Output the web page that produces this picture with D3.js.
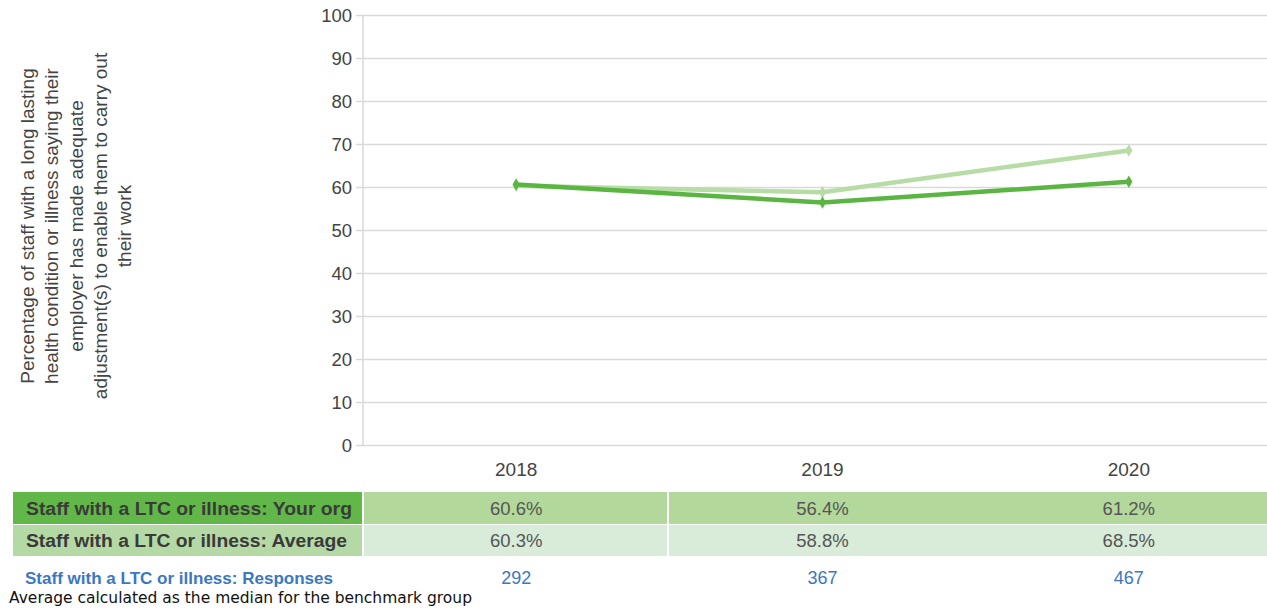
<!DOCTYPE html>
<html>
<head>
<meta charset="utf-8">
<script src="https://cdn.jsdelivr.net/npm/d3@7"></script>
<style>
  body { margin: 0; background: #fff; }
  svg { display: block; font-family: "Liberation Sans", Arial, sans-serif; }
  .grid line { stroke: #d9d9d9; stroke-width: 1.5; }
  .grid path { display: none; }
  .tick text { fill: #444; }
</style>
</head>
<body>
<div id="chart"></div>
<script>
// chart data
const years = ["2018", "2019", "2020"];
const yourOrg = [60.6, 56.4, 61.2];
const average = [60.3, 58.8, 68.5];
const responses = [292, 367, 467];
const yTicks = [0, 10, 20, 30, 40, 50, 60, 70, 80, 90, 100];
const axisTitle = [
  "Percentage of staff with a long lasting",
  "health condition or illness saying their",
  "employer has made adequate",
  "adjustment(s) to enable them to carry out",
  "their work"
];
const rowLabels = [
  "Staff with a LTC or illness: Your org",
  "Staff with a LTC or illness: Average"
];

const W = 1267, H = 609;
const plotLeft = 363, plotTop = 15, plotBottom = 445;

const svg = d3.select("#chart").append("svg")
  .attr("width", W).attr("height", H);

const x = d3.scaleBand().domain(years).range([plotLeft, 1282]);
const xc = d => x(d) + x.bandwidth() / 2;
const y = d3.scaleLinear().domain([0, 100]).range([plotBottom, plotTop]);

// horizontal grid with little ticks out to the left
svg.append("g")
  .attr("class", "grid")
  .attr("transform", "translate(" + plotLeft + ",0)")
  .call(d3.axisLeft(y).tickValues(yTicks).tickSize(0).tickFormat(""))
  .call(g => g.selectAll(".tick line")
    .attr("x1", -7).attr("x2", W - plotLeft));

svg.append("line")
  .attr("x1", plotLeft).attr("x2", plotLeft)
  .attr("y1", y(100)).attr("y2", y(0))
  .attr("stroke", "#d9d9d9").attr("stroke-width", 1.5);

// y tick labels
svg.append("g")
  .attr("transform", "translate(" + (plotLeft - 11) + ",0)")
  .call(d3.axisLeft(y).tickValues(yTicks).tickSize(0).tickPadding(0))
  .call(g => g.select(".domain").remove())
  .call(g => g.selectAll("text").style("font-size", "18.5px").attr("dy", "0.36em"));

// x labels
svg.append("g")
  .attr("transform", "translate(0," + (plotBottom + 15) + ")")
  .call(d3.axisBottom(x).tickSize(0).tickPadding(0))
  .call(g => g.select(".domain").remove())
  .call(g => g.selectAll("text").style("font-size", "19px").attr("dy", "0.85em"));

// rotated axis title
const title = svg.append("text")
  .attr("transform", "translate(34,226) rotate(-90)")
  .attr("text-anchor", "middle")
  .attr("fill", "#444")
  .style("font-size", "19px");
axisTitle.forEach((t, i) => {
  title.append("tspan").attr("x", 0).attr("y", i * 24.3).text(t);
});

// lines
const series = [
  { vals: average, color: "#b7dca6" },
  { vals: yourOrg, color: "#5bb543" }
];
const line = d3.line().x((d, i) => xc(years[i])).y(d => y(d));
series.forEach(s => {
  svg.append("path")
    .datum(s.vals)
    .attr("d", line)
    .attr("fill", "none")
    .attr("stroke", s.color)
    .attr("stroke-width", 4.5)
    .attr("stroke-linejoin", "round");
  svg.selectAll(null)
    .data(s.vals)
    .enter().append("path")
    .attr("d", d3.symbol(d3.symbolDiamond, 45))
    .attr("transform", (d, i) => "translate(" + xc(years[i]) + "," + y(d) + ")")
    .attr("fill", s.color);
});

// data table
const rowTop = [492, 525];
const rowH = [32, 31];
const labelFill = ["#61b848", "#b4d9a4"];
const cellFill = ["#b3d89b", "#d9ecd9"];
const rowVals = [yourOrg, average];

rowVals.forEach((vals, r) => {
  const base = rowTop[r] + rowH[r] / 2 + 6.5;
  svg.append("rect")
    .attr("x", 13).attr("y", rowTop[r])
    .attr("width", 349).attr("height", rowH[r])
    .attr("fill", labelFill[r]);
  svg.append("rect")
    .attr("x", 364).attr("y", rowTop[r])
    .attr("width", W - 364).attr("height", rowH[r])
    .attr("fill", cellFill[r]);
  svg.append("text")
    .attr("x", 26).attr("y", base)
    .attr("fill", "#3a3a3a")
    .style("font-size", "18px").style("font-weight", "bold")
    .attr("textLength", r === 0 ? 326 : 321)
    .attr("lengthAdjust", "spacingAndGlyphs")
    .text(rowLabels[r]);
  svg.selectAll(null)
    .data(vals)
    .enter().append("text")
    .attr("x", (d, i) => xc(years[i]))
    .attr("y", base)
    .attr("text-anchor", "middle")
    .attr("fill", "#555")
    .style("font-size", "18.5px")
    .text(d => d.toFixed(1) + "%");
});

// column separator between 2018 and 2019
svg.append("line")
  .attr("x1", 668).attr("x2", 668)
  .attr("y1", 492).attr("y2", 556)
  .attr("stroke", "#fff").attr("stroke-width", 2);

// responses row
svg.append("text")
  .attr("x", 25).attr("y", 584)
  .attr("fill", "#3b77c2")
  .style("font-family", "'Liberation Sans Narrow', 'Liberation Sans', Arial, sans-serif")
  .style("font-size", "17px").style("font-weight", "bold")
  .attr("textLength", 308).attr("lengthAdjust", "spacingAndGlyphs")
  .text("Staff with a LTC or illness: Responses");
svg.selectAll(null)
  .data(responses)
  .enter().append("text")
  .attr("x", (d, i) => xc(years[i]))
  .attr("y", 584)
  .attr("text-anchor", "middle")
  .attr("fill", "#3b77c2")
  .style("font-size", "18px")
  .text(d => d);

// footnote
svg.append("text")
  .attr("x", 9).attr("y", 603)
  .attr("fill", "#111")
  .style("font-family", "'DejaVu Sans', sans-serif")
  .style("font-size", "15px")
  .attr("textLength", 463).attr("lengthAdjust", "spacingAndGlyphs")
  .text("Average calculated as the median for the benchmark group");
</script>
</body>
</html>
